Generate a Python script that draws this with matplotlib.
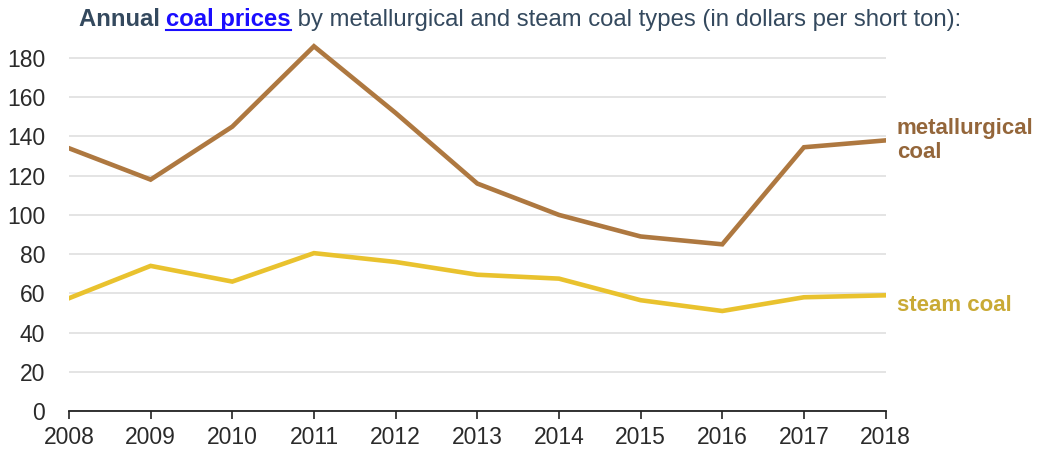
import matplotlib.pyplot as plt
from matplotlib.lines import Line2D

plt.rcParams['font.family'] = ['Liberation Sans', 'DejaVu Sans']

# Data
years = [2008, 2009, 2010, 2011, 2012, 2013, 2014, 2015, 2016, 2017, 2018]
metallurgical = [134, 118, 145, 186, 152, 116, 100, 89, 85, 134.5, 138]
steam = [57.5, 74, 66, 80.5, 76, 69.5, 67.5, 56.5, 51, 58, 59]
y_ticks = [0, 20, 40, 60, 80, 100, 120, 140, 160, 180]

met_color = '#ae7840'
steam_color = '#e9c22e'

fig = plt.figure(figsize=(10.37, 4.53), dpi=100)
ax = fig.add_axes([0.0665, 0.0927, 0.7875, 0.8225])

ax.plot(years, metallurgical, color=met_color, lw=3.3, solid_joinstyle='miter', zorder=3)
ax.plot(years, steam, color=steam_color, lw=3.3, solid_joinstyle='miter', zorder=3)

ax.set_xlim(2008, 2018)
ax.set_ylim(0, 190)
ax.set_xticks(years)
ax.set_yticks(y_ticks)
ax.grid(axis='y', color='#dddddd', lw=1.1)
ax.set_axisbelow(True)
for s in ['top', 'right', 'left']:
    ax.spines[s].set_visible(False)
ax.spines['bottom'].set_color('#222222')
ax.spines['bottom'].set_linewidth(1.3)
ax.tick_params(axis='x', length=6, width=1.2, color='#222222', labelsize=16.5,
               labelcolor='#2a2a2a', pad=5)
ax.tick_params(axis='y', length=0, labelsize=16.5, labelcolor='#2a2a2a', pad=17)

# line labels
ax.annotate('metallurgical\ncoal', xy=(2018, metallurgical[-1]), xytext=(8, 0),
            textcoords='offset points', va='center', ha='left', fontsize=16,
            fontweight='bold', color='#94663a', linespacing=1.22, annotation_clip=False)
ax.annotate('steam coal', xy=(2018, steam[-1]), xytext=(8, -7),
            textcoords='offset points', va='center', ha='left', fontsize=16,
            fontweight='bold', color='#c9aa35', annotation_clip=False)

# title in three pieces
parts = [('Annual ', 'bold', '#34495e'),
         ('coal prices', 'bold', '#1a0dff'),
         (' by metallurgical and steam coal types (in dollars per short ton):', 'normal', '#34495e')]
fig.canvas.draw()
r = fig.canvas.get_renderer()
texts = []
for s, w, c in parts:
    t = fig.text(0, 0.943, s, fontsize=17.2, fontweight=w, color=c, va='baseline', ha='left')
    texts.append(t)
widths = [t.get_window_extent(r).width for t in texts]
total = sum(widths)
pos = 520 - total / 2
for t, wd in zip(texts, widths):
    t.set_x(pos / fig.bbox.width)
    pos += wd
# underline for link text
u0 = texts[1].get_position()[0]
u1 = u0 + widths[1] / fig.bbox.width
fig.add_artist(Line2D([u0, u1], [0.934, 0.934], color='#1a0dff', lw=1.5,
                      transform=fig.transFigure))

fig.savefig('out.png', dpi=100, facecolor='white')
